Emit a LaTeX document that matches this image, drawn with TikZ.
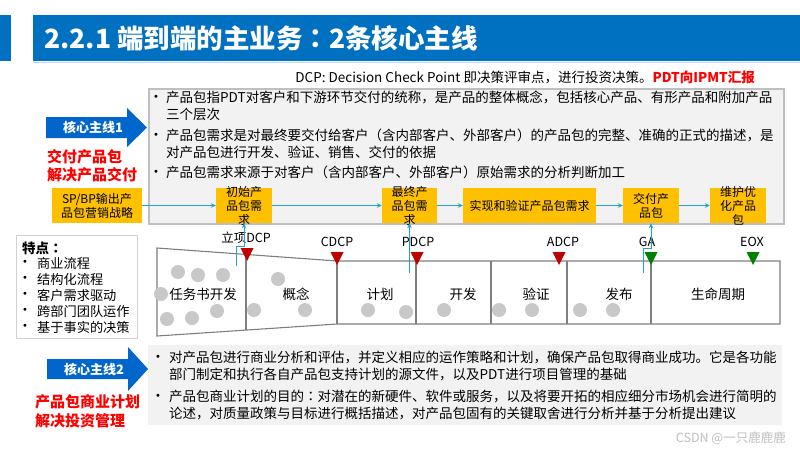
\documentclass[tikz,border=0pt]{standalone}
\usepackage{fontspec}
\setmainfont{Noto Sans CJK SC}
\newfontfamily\tcfont{Noto Sans CJK TC}
\newfontfamily\dvfont{DejaVu Sans}
\newcommand{\ccol}{{\tcfont ：}}
\newcommand{\bul}{{\dvfont •}}
\usetikzlibrary{arrows.meta}
\definecolor{tblue}{HTML}{0070C0}
\definecolor{lblue}{HTML}{BDD7EE}
\definecolor{ablue}{HTML}{0066CC}
\definecolor{ylw}{HTML}{FFC000}
\definecolor{boxgray}{HTML}{F2F2F2}
\definecolor{bordergray}{HTML}{BFBFBF}
\definecolor{linegray}{HTML}{7F7F7F}
\definecolor{tealc}{HTML}{1FA2D0}
\definecolor{dred}{HTML}{C00000}
\definecolor{dgreen}{HTML}{008000}
\definecolor{dotgray}{HTML}{C8C8C8}
\definecolor{brightred}{HTML}{FF0000}
\definecolor{wmgray}{HTML}{BFBFBF}
\tikzset{
  txt/.style={inner sep=0, font=\fontsize{13.5}{17}\selectfont},
  para/.style={txt, anchor=north west, align=left},
  dot/.style={inner sep=0, anchor=west, font=\fontsize{10}{12}\selectfont},
  ybox/.style={fill=ylw, draw=none, inner sep=0},
  ytext/.style={inner sep=0, align=center, font=\fontsize{12}{14}\selectfont},
  conn/.style={tealc, line width=0.8, -{Stealth[length=5pt,width=4.5pt]}},
  phase/.style={inner sep=0, font=\fontsize{13.5}{16}\selectfont},
  gate/.style={inner sep=0, font=\fontsize{12.5}{15}\selectfont},
  tl/.style={linegray, line width=1.1},
  redtxt/.style={inner sep=0, anchor=west, text=brightred, font=\fontsize{15}{18}\selectfont\bfseries},
  arrtxt/.style={inner sep=0, text=white, font=\fontsize{13}{16}\selectfont\bfseries},
  blob/.style={fill=dotgray, draw=none}
}
\begin{document}
\begin{tikzpicture}[x=1pt,y=-1pt]
\useasboundingbox (0,0) rectangle (800,450);
\fill[white] (0,0) rectangle (800,450);
% title bar
\fill[tblue] (0,15) rectangle (11,61);
\fill[tblue] (33,15) rectangle (800,61);
\draw[lblue, line width=1.2] (33,62.5) -- (800,62.5);
\node[inner sep=0, anchor=west, text=white, font=\fontsize{26.5}{30}\selectfont\bfseries] (title) at (44,38) {2.2.1 端到端的主业务\ccol 2条核心主线};
% DCP note
\node[txt, anchor=east] (dcp) at (755,77) {DCP: Decision Check Point 即决策评审点，进行投资决策。{\color{brightred}\bfseries PDT向IPMT汇报}};
% top box
\node[draw=bordergray, line width=1.5, fill=boxgray, minimum width=635, minimum height=135, anchor=north west] (topbox) at (148,88) {};
\node[dot] (t1d) at (153,98) {\bul};
\node[para] (t1) at (166,91) {产品包指PDT对客户和下游环节交付的统称，是产品的整体概念，包括核心产品、有形产品和附加产品\\三个层次};
\node[dot] (t2d) at (153,136) {\bul};
\node[para] (t2) at (166,129) {产品包需求是对最终要交付给客户（含内部客户、外部客户）的产品包的完整、准确的正式的描述，是\\对产品包进行开发、验证、销售、交付的依据};
\node[dot] (t3d) at (153,173) {\bul};
\node[para] (t3) at (166,166) {产品包需求来源于对客户（含内部客户、外部客户）原始需求的分析判断加工};
% main line 1
\fill[ablue] (46,117) -- (127,117) -- (127,108) -- (147,127.5) -- (127,147) -- (127,138) -- (46,138) -- cycle;
\node[arrtxt] (m1) at (93,127.5) {核心主线1};
\node[redtxt] (r1) at (47,157) {交付产品包};
\node[redtxt] (r2) at (47,175) {解决产品交付};
% yellow boxes
\node[ybox, minimum width=90, minimum height=35] (sp) at (97,205.5) {};
\node[ytext] (spt) at (sp) {SP/BP输出产\\品包营销战略};
\node[ybox, minimum width=56, minimum height=35] (init) at (244,205.5) {};
\node[ytext] (initt) at (init) {初始产\\品包需\\求};
\node[ybox, minimum width=55, minimum height=35] (final) at (409.5,205.5) {};
\node[ytext] (finalt) at (final) {最终产\\品包需\\求};
\node[ybox, minimum width=133, minimum height=35] (impl) at (529.5,205.5) {};
\node[ytext] (implt) at (impl) {实现和验证产品包需求};
\node[ybox, minimum width=56, minimum height=35] (deliv) at (651,205.5) {};
\node[ytext] (delivt) at (deliv) {交付产\\品包};
\node[ybox, minimum width=56, minimum height=35] (maint) at (738,205.5) {};
\node[ytext] (maintt) at (maint) {维护优\\化产品\\包};
\draw[conn] (sp.east) -- (init.west);
\draw[conn] (init.east) -- (final.west);
\draw[conn] (final.east) -- (impl.west);
\draw[conn] (impl.east) -- (deliv.west);
\draw[conn] (deliv.east) -- (maint.west);
% features box
\node[draw=bordergray!70, line width=0.8, fill=white, minimum width=121, minimum height=103, anchor=north west] (feat) at (16,235) {};
\node[txt, anchor=west, font=\fontsize{13.5}{16}\selectfont\bfseries] (fh) at (22,248) {特点\ccol};
\foreach \t/\yy [count=\i] in {商业流程/263, 结构化流程/279, 客户需求驱动/295, 跨部门团队运作/311, 基于事实的决策/327}{
  \node[dot] (fd\i) at (22,\yy) {\bul};
  \node[txt, anchor=west, font=\fontsize{13.2}{16}\selectfont] (ft\i) at (37,\yy) {\t};
}
% timeline
\draw[tl] (157,248) -- (337,261) -- (780,261) -- (780,324) -- (337,324) -- (157,336) -- cycle;
\draw[tl] (246,254.4) -- (246,330.1);
\foreach \xx in {337,416,491,567,651} \draw[tl] (\xx,261) -- (\xx,324);
\foreach \xx/\yy in {178/272,198/275,223/275,161/294,167/319,192/318,217/311,254/310,278/279,305/310,368/310,406/312,444/310,499/310,532/310,580/310,613/310}
  \fill[blob] (\xx,\yy) circle (7);
\node[phase] (p1) at (203,294) {任务书开发};
\node[phase] (p2) at (296,294) {概念};
\node[phase] (p3) at (380,294) {计划};
\node[phase] (p4) at (463,294) {开发};
\node[phase] (p5) at (536,294) {验证};
\node[phase] (p6) at (619,294) {发布};
\node[phase] (p7) at (718,294) {生命周期};
% gates
\fill[dred] (240.5,248) -- (253.5,248) -- (247,261) -- cycle;
\fill[dred] (330.5,252) -- (343.5,252) -- (337,265) -- cycle;
\fill[dred] (410.5,252) -- (423.5,252) -- (417,265) -- cycle;
\fill[dred] (552.5,252) -- (565.5,252) -- (559,265) -- cycle;
\fill[dgreen] (644.5,252) -- (657.5,252) -- (651,265) -- cycle;
\fill[dgreen] (746.5,252) -- (759.5,252) -- (753,265) -- cycle;
\node[gate] (g1) at (246,238) {立项DCP};
\node[gate] (g2) at (337,242) {CDCP};
\node[gate] (g3) at (418,242) {PDCP};
\node[gate] (g4) at (563,242) {ADCP};
\node[gate] (g5) at (647,242) {GA};
\node[gate] (g6) at (752,242) {EOX};
% connectors from gates to boxes
\coordinate (c1) at (236.5,266);
\coordinate (c2) at (409.5,273);
\coordinate (c3) at (643,273);
\draw[conn] (c1) -- (236.5,246) -- (244,246) -- (init.south);
\draw[conn] (c2) -- (final.south);
\draw[conn] (c3) -- (643,248) -- (651,248) -- (deliv.south);
% bottom box
\node[fill=boxgray, draw=none, minimum width=634, minimum height=80, anchor=north west] (botbox) at (148,345) {};
\node[dot] (b1d) at (155,358) {\bul};
\node[para] (b1) at (169,351) {对产品包进行商业分析和评估，并定义相应的运作策略和计划，确保产品包取得商业成功。它是各功能\\部门制定和执行各自产品包支持计划的源文件，以及PDT进行项目管理的基础};
\node[dot] (b2d) at (155,397) {\bul};
\node[para] (b2) at (169,390) {产品包商业计划的目的\ccol 对潜在的新硬件、软件或服务，以及将要开拓的相应细分市场机会进行简明的\\论述，对质量政策与目标进行概括描述，对产品包固有的关键取舍进行分析并基于分析提出建议};
% main line 2
\fill[ablue] (47,359) -- (128,359) -- (128,347) -- (148,369) -- (128,391) -- (128,379) -- (47,379) -- cycle;
\node[arrtxt] (m2) at (94,369) {核心主线2};
\node[redtxt] (r3) at (35,402) {产品包商业计划};
\node[redtxt] (r4) at (35,421) {解决投资管理};
% watermark
\node[inner sep=0, anchor=east, text=wmgray, font=\fontsize{12.5}{15}\selectfont] (wm) at (786,438) {CSDN @一只鹿鹿鹿};
\end{tikzpicture}
\end{document}
